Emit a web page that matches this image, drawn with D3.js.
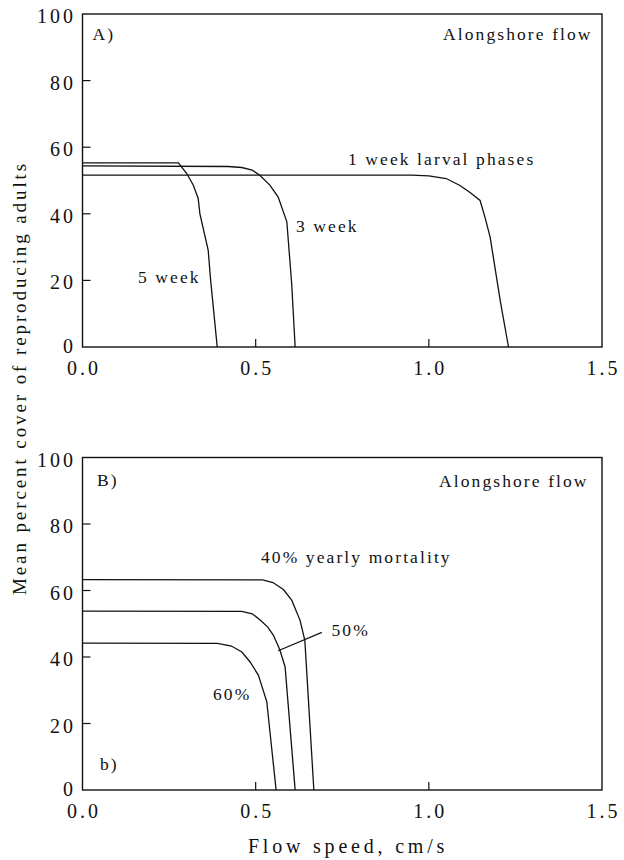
<!DOCTYPE html>
<html>
<head>
<meta charset="utf-8">
<title>Alongshore flow</title>
<script src="https://d3js.org/d3.v7.min.js"></script>
<style>
  body { margin: 0; background: white; }
  svg { display: block; background: white; }
</style>
</head>
<body>
<script>
// panel A: larval phase length
const week1Speed = [0, 0.95, 1.0, 1.05, 1.09, 1.12, 1.148, 1.162, 1.177, 1.206, 1.23]
const week1Cover = [51.6, 51.6, 51.4, 50.6, 48.5, 46.3, 44, 39, 33, 14, 0]
const week3Speed = [0, 0.42, 0.46, 0.49, 0.512, 0.541, 0.565, 0.59, 0.604, 0.614]
const week3Cover = [54.4, 54.2, 53.9, 53.1, 51.6, 48.6, 45, 37.6, 19, 0]
const week5Speed = [0, 0.277, 0.301, 0.32, 0.334, 0.339, 0.363, 0.37, 0.389]
const week5Cover = [55.3, 55.3, 52.1, 48.6, 44.6, 40, 29, 20, 0]

// panel B: yearly mortality
const mort40Speed = [0, 0.52, 0.55, 0.58, 0.604, 0.628, 0.642, 0.668]
const mort40Cover = [63.3, 63.2, 62.4, 60.3, 57.1, 51.1, 45, 0]
const mort50Speed = [0, 0.46, 0.49, 0.513, 0.535, 0.551, 0.57, 0.585, 0.614]
const mort50Cover = [53.8, 53.7, 53, 51.1, 49, 46.6, 42.1, 37, 0]
const mort60Speed = [0, 0.39, 0.43, 0.46, 0.484, 0.508, 0.532, 0.559]
const mort60Cover = [44.2, 44.1, 43.3, 41.5, 38.5, 34.5, 26.6, 0]

const xTicks = [0, 0.5, 1.0, 1.5]
const yTicks = [0, 20, 40, 60, 80, 100]

let width = 624
let height = 860
let serif = "'Liberation Serif', 'Times New Roman', Times, 'DejaVu Serif', serif"

let svg = d3.select("body").append("svg")
    .attr("width", width)
    .attr("height", height)
    .attr("font-family", serif)
    .style("font-family", serif)

let x = d3.scaleLinear().domain([0, 1.5]).range([82.5, 602])

let zip = (xs, ys) => xs.map((v, i) => [v, ys[i]])

let drawPanel = (top, bottom, series) => {
    let y = d3.scaleLinear().domain([0, 100]).range([bottom, top])
    let g = svg.append("g")

    // frame
    g.append("rect")
        .attr("x", x(0)).attr("y", y(100))
        .attr("width", x(1.5) - x(0)).attr("height", y(0) - y(100))
        .attr("fill", "none").attr("stroke", "#111").attr("stroke-width", 1.4)

    // inward ticks
    g.selectAll(".ytick").data(yTicks.filter(t => t > 0 && t < 100)).enter()
        .append("line")
        .attr("x1", x(0)).attr("x2", x(0) + 8)
        .attr("y1", d => y(d)).attr("y2", d => y(d))
        .attr("stroke", "#111").attr("stroke-width", 1.2)
    g.selectAll(".xtick").data(xTicks.filter(t => t > 0 && t < 1.5)).enter()
        .append("line")
        .attr("x1", d => x(d)).attr("x2", d => x(d))
        .attr("y1", y(0)).attr("y2", y(0) - 8)
        .attr("stroke", "#111").attr("stroke-width", 1.2)

    // tick labels
    g.selectAll(".ylab").data(yTicks).enter()
        .append("text")
        .attr("x", 76)
        .attr("y", d => y(d) + (d === 0 ? 5.5 : 9))
        .attr("text-anchor", "end")
        .attr("font-size", 20)
        .attr("letter-spacing", 3)
        .attr("fill", "#111")
        .text(d => d)
    g.selectAll(".xlab").data(xTicks).enter()
        .append("text")
        .attr("x", d => x(d) + 1.5)
        .attr("y", y(0) + 28)
        .attr("text-anchor", "middle")
        .attr("font-size", 20)
        .attr("letter-spacing", 3)
        .attr("fill", "#111")
        .text(d => d.toFixed(1))

    let line = d3.line().x(d => x(d[0])).y(d => y(d[1]))
    series.forEach(s => {
        g.append("path")
            .attr("d", line(s))
            .attr("fill", "none")
            .attr("stroke", "#111")
            .attr("stroke-width", 1.3)
    })
    return { g, y }
}

let label = (g, px, py, txt) => {
    g.append("text")
        .attr("x", px).attr("y", py)
        .attr("font-size", 17.5)
        .attr("letter-spacing", 2.1)
        .attr("fill", "#111")
        .text(txt)
}

let a = drawPanel(14, 347, [
    zip(week1Speed, week1Cover),
    zip(week3Speed, week3Cover),
    zip(week5Speed, week5Cover)
])
label(a.g, 92.5, 40, "A)")
label(a.g, 443, 40, "Alongshore flow")
label(a.g, 348, 165, "1 week larval phases")
label(a.g, 296, 232, "3 week")
label(a.g, 138, 283, "5 week")

let b = drawPanel(457.5, 790, [
    zip(mort40Speed, mort40Cover),
    zip(mort50Speed, mort50Cover),
    zip(mort60Speed, mort60Cover)
])
label(b.g, 97, 486, "B)")
label(b.g, 439, 487, "Alongshore flow")
label(b.g, 261, 563, "40% yearly mortality")
label(b.g, 331.5, 636, "50%")
label(b.g, 213, 700, "60%")
label(b.g, 100, 770, "b)")

// leader for the 50% curve
b.g.append("line")
    .attr("x1", x(0.565)).attr("y1", b.y(41.9))
    .attr("x2", x(0.691)).attr("y2", b.y(47.4))
    .attr("stroke", "#111").attr("stroke-width", 1.2)

// axis titles
svg.append("text")
    .attr("transform", "translate(26,378) rotate(-90)")
    .attr("text-anchor", "middle")
    .attr("font-size", 19)
    .attr("letter-spacing", 2.9)
    .attr("fill", "#111")
    .text("Mean percent cover of reproducing adults")

svg.append("text")
    .attr("x", 348)
    .attr("y", 853)
    .attr("text-anchor", "middle")
    .attr("font-size", 20)
    .attr("letter-spacing", 3.8)
    .attr("fill", "#111")
    .text("Flow speed, cm/s")
</script>
</body>
</html>
